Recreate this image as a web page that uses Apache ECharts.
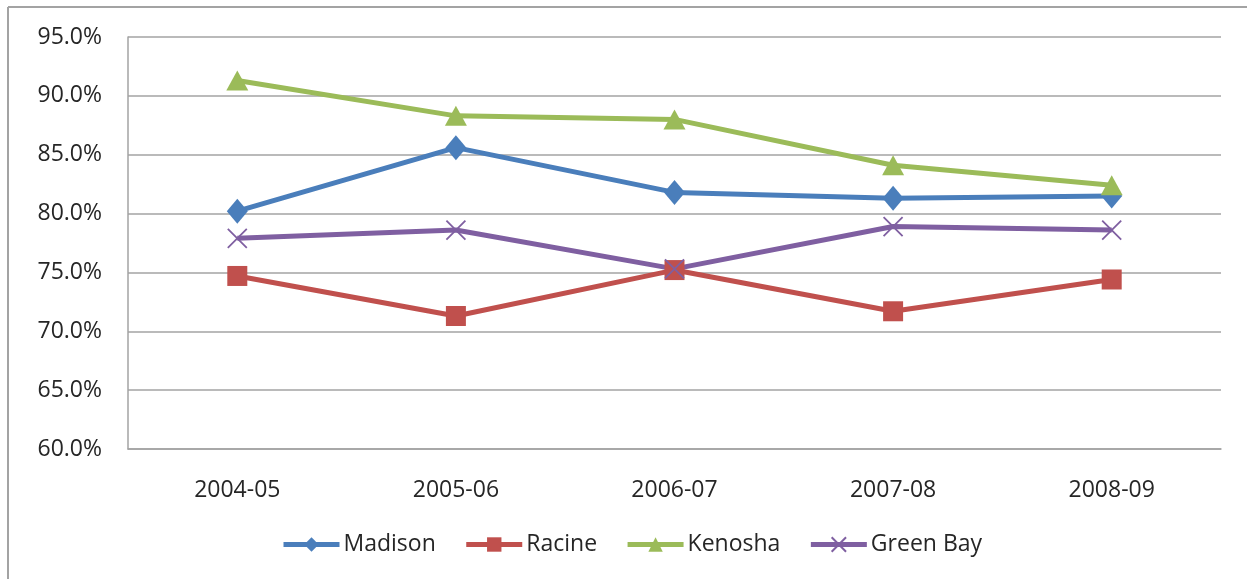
<!DOCTYPE html>
<html>
<head>
<meta charset="utf-8">
<script src="https://cdn.jsdelivr.net/npm/echarts@6/dist/echarts.min.js"></script>
<style>html,body{margin:0;padding:0;background:#fff}#c{width:1247px;height:579px}</style>
</head>
<body>
<div id="c"></div>
<script>
const categories = ['2004-05', '2005-06', '2006-07', '2007-08', '2008-09'];
const madison = [80.2, 85.6, 81.8, 81.3, 81.5];
const racine = [74.7, 71.3, 75.2, 71.7, 74.4];
const kenosha = [91.3, 88.3, 88.0, 84.1, 82.4];
const greenBay = [77.9, 78.6, 75.3, 78.9, 78.6];
const seriesNames = ['Madison', 'Racine', 'Kenosha', 'Green Bay'];
const colors = ['#4A7EBB', '#C0504D', '#9BBB59', '#7F5FA1'];

const FONT = '"Open Sans", sans-serif';
const chart = echarts.init(document.getElementById('c'), null, {renderer: 'canvas'});
const crossPath = 'path://M0,0L10,10M10,0L0,10';

function mk(name, data, color, symbol, size, extra) {
  return Object.assign({
    name: name, type: 'line', data: data,
    symbol: symbol, symbolSize: size,
    lineStyle: {width: 5, color: color},
    itemStyle: {color: color},
    emphasis: {disabled: true},
    animation: false
  }, extra || {});
}

chart.setOption({
  animation: false,
  color: colors,
  grid: {left: 128, right: 26, top: 37, bottom: 130, containLabel: false},
  graphic: [
    {type: 'line', shape: {x1: 8, y1: 7, x2: 1247, y2: 7}, style: {stroke: '#A3A3A3', lineWidth: 2}},
    {type: 'line', shape: {x1: 8, y1: 7, x2: 8, y2: 579}, style: {stroke: '#A3A3A3', lineWidth: 2}}
  ],
  legend: {
    bottom: 18, left: 276,
    itemWidth: 56, itemHeight: 18, itemGap: 28,
    lineStyle: {width: 5},
    textStyle: {fontFamily: FONT, fontSize: 23, color: '#262626', padding: [0, 0, 0, -1]},
    data: seriesNames
  },
  xAxis: {
    type: 'category', data: categories, boundaryGap: true,
    axisLine: {lineStyle: {color: '#A3A3A3', width: 1.5}},
    axisTick: {show: false},
    axisLabel: {fontFamily: FONT, fontSize: 23, color: '#262626', margin: 30}
  },
  yAxis: {
    type: 'value', min: 60, max: 95, interval: 5,
    axisLine: {show: true, lineStyle: {color: '#A3A3A3', width: 1.5}},
    axisTick: {show: false},
    splitLine: {lineStyle: {color: '#A3A3A3', width: 1.5}},
    axisLabel: {fontFamily: FONT, fontSize: 23, color: '#262626', margin: 26,
      formatter: v => v.toFixed(1) + '%'}
  },
  series: [
    mk('Madison', madison, colors[0], 'diamond', [21, 25]),
    mk('Racine', racine, colors[1], 'rect', 20),
    mk('Kenosha', kenosha, colors[2], 'triangle', [22, 20]),
    mk('Green Bay', greenBay, colors[3], crossPath, 19,
      {itemStyle: {color: 'none', borderColor: colors[3], borderWidth: 1.8}})
  ]
});
</script>
</body>
</html>
